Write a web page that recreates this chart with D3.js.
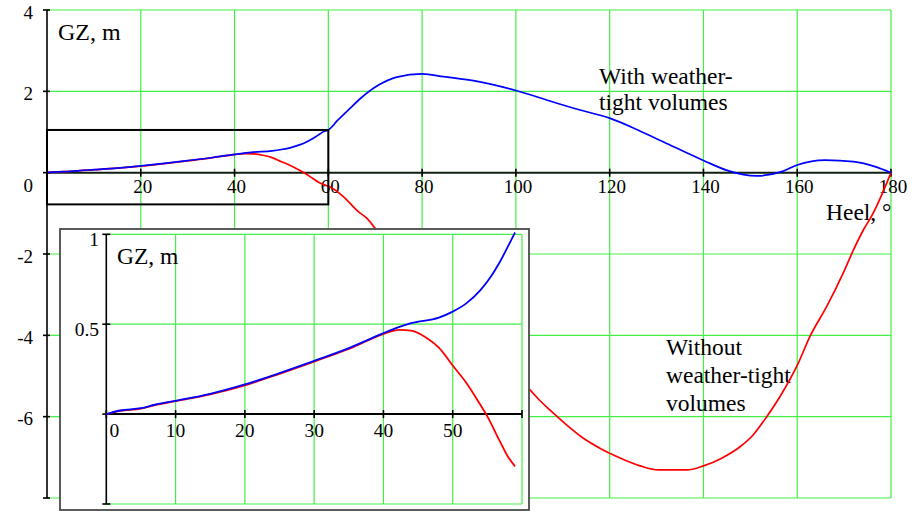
<!DOCTYPE html>
<html>
<head>
<meta charset="utf-8">
<script src="https://cdn.jsdelivr.net/npm/d3@7"></script>
<style>
  body { margin: 0; background: #fff; }
  svg { display: block; }
  text { font-family: "Liberation Serif", "Times New Roman", serif; fill: #000; }
</style>
</head>
<body>
<svg id="chart" width="914" height="512"></svg>
<script>
// GZ righting-lever curves (heel in degrees, GZ in metres)
const heelWith = [0, 2, 5, 7, 10, 15, 20, 25, 30, 35, 40, 42, 44, 48, 50, 52, 54, 55, 56.7, 58.2, 59, 60,
  62, 64.6, 66.9, 70.8, 74.6, 80, 84.6, 91.5, 100, 107.6, 113.7, 120, 126, 131.4, 140, 145.2, 151.3,
  156.7, 160, 166, 172, 176.6, 180];
const gzWith = [0, 0.02, 0.033, 0.052, 0.074, 0.113, 0.165, 0.228, 0.296, 0.367, 0.45, 0.481, 0.506, 0.537,
  0.57, 0.617, 0.69, 0.737, 0.839, 0.95, 1.01, 1.05, 1.29, 1.58, 1.83, 2.16, 2.35, 2.43, 2.36, 2.25, 2.02,
  1.75, 1.54, 1.34, 1.05, 0.76, 0.30, 0.05, -0.08, 0.025, 0.19, 0.31, 0.27, 0.15, 0];

const heelWithout = [0, 2, 5, 7, 10, 15, 20, 25, 30, 35, 40, 42.3, 44, 46.3, 48, 50, 52, 53.7, 55, 56.7, 58,
  59, 60, 63.2, 66.4, 68.2, 70, 75, 80, 85, 90, 95, 100, 103, 105, 107.3, 110.8, 114.4, 118, 121.5, 126.5,
  130.4, 136.4, 140, 143.9, 147.8, 150.6, 153.5, 156.3, 160.2, 162.7, 166.3, 169.8, 172, 174.1, 176, 178, 180];
const gzWithout = [0, 0.018, 0.03, 0.05, 0.072, 0.11, 0.16, 0.224, 0.292, 0.362, 0.445, 0.468, 0.464, 0.422,
  0.37, 0.27, 0.172, 0.07, -0.013, -0.143, -0.239, -0.291, -0.33, -0.59, -0.96, -1.12, -1.37, -2.1, -2.8,
  -3.5, -4.1, -4.6, -5.05, -5.34, -5.59, -5.84, -6.2, -6.53, -6.78, -6.98, -7.21, -7.31, -7.31, -7.21, -7.02,
  -6.74, -6.45, -6.0, -5.51, -4.69, -4.03, -3.29, -2.47, -1.9, -1.41, -1.04, -0.55, 0];

// Axis ticks and labels
const mainXTicks = [20, 40, 60, 80, 100, 120, 140, 160, 180];
const mainYTicks = [4, 2, 0, -2, -4, -6, -8];
const mainYLabels = [4, 2, 0, -2, -4, -6];
const insetXTicks = [0, 10, 20, 30, 40, 50, 60];
const insetXLabels = [0, 10, 20, 30, 40, 50];
const insetYTicks = [1, 0.5, 0, -0.5];
const insetYLabels = [1, 0.5];

// Region enlarged in the inset
const zoomHeel = [0, 60];
const zoomGZ = [-0.78, 1.05];

const GRID = "#44ee44";
const svg = d3.select("#chart");

const toPts = (hs, gs, maxH) => hs.map((h, i) => [h, gs[i]]).filter(p => p[0] <= maxH);

// ---------- main chart ----------
const x = d3.scaleLinear().domain([0, 180]).range([47, 891]);
const y = d3.scaleLinear().domain([-8, 4]).range([498, 10]);

const main = svg.append("g");

// grid
main.append("g").selectAll("line").data(mainXTicks).join("line")
  .attr("x1", d => x(d)).attr("x2", d => x(d))
  .attr("y1", y(4)).attr("y2", y(-8))
  .attr("stroke", GRID).attr("stroke-width", 1.2);
main.append("g").selectAll("line").data(mainYTicks.filter(d => d !== 0)).join("line")
  .attr("x1", x(0)).attr("x2", x(180))
  .attr("y1", d => y(d)).attr("y2", d => y(d))
  .attr("stroke", GRID).attr("stroke-width", 1.2);

// axes
main.append("line").attr("x1", x(0)).attr("x2", x(0)).attr("y1", y(4)).attr("y2", y(-8))
  .attr("stroke", "#000").attr("stroke-width", 1.6);
main.append("g").selectAll("line").data(mainYTicks).join("line")
  .attr("x1", x(0) - 4).attr("x2", x(0) + 3)
  .attr("y1", d => y(d)).attr("y2", d => y(d))
  .attr("stroke", "#000").attr("stroke-width", 1.6);
main.append("line").attr("x1", x(0)).attr("x2", x(180)).attr("y1", y(0)).attr("y2", y(0))
  .attr("stroke", "#102010").attr("stroke-width", 2);
main.append("g").selectAll("line").data(mainXTicks).join("line")
  .attr("x1", d => x(d)).attr("x2", d => x(d))
  .attr("y1", y(0) - 4).attr("y2", y(0) + 4)
  .attr("stroke", "#000").attr("stroke-width", 1.6);

// tick labels
main.append("g").selectAll("text").data(mainXTicks).join("text")
  .attr("x", d => x(d) + 2).attr("y", y(0) + 20.5)
  .attr("text-anchor", "middle").attr("font-size", 19)
  .text(d => d);
main.append("g").selectAll("text").data(mainYLabels).join("text")
  .attr("x", 33).attr("y", d => y(d) + (d === 0 ? 19 : 8.5))
  .attr("text-anchor", "end").attr("font-size", 19)
  .text(d => d);

// titles and curve notes
main.append("text").attr("x", 58).attr("y", 40).attr("font-size", 24).text("GZ, m");
main.append("text").attr("x", 826).attr("y", 220).attr("font-size", 23.5).text("Heel, °");
const noteWith = main.append("text").attr("font-size", 23.5);
noteWith.append("tspan").attr("x", 599).attr("y", 83.5).text("With weather-");
noteWith.append("tspan").attr("x", 599).attr("y", 110).text("tight volumes");
const noteWithout = main.append("text").attr("font-size", 23.5);
noteWithout.append("tspan").attr("x", 666).attr("y", 355).text("Without");
noteWithout.append("tspan").attr("x", 666).attr("y", 383).text("weather-tight");
noteWithout.append("tspan").attr("x", 666).attr("y", 411).text("volumes");

// curves
const lineMain = d3.line().x(d => x(d[0])).y(d => y(d[1])).curve(d3.curveMonotoneX);
main.append("path").attr("d", lineMain(toPts(heelWithout, gzWithout, 180)))
  .attr("fill", "none").attr("stroke", "#ff0000").attr("stroke-width", 1.7);
main.append("path").attr("d", lineMain(toPts(heelWith, gzWith, 180)))
  .attr("fill", "none").attr("stroke", "#0000ff").attr("stroke-width", 1.7);

// zoom box
main.append("rect")
  .attr("x", x(zoomHeel[0])).attr("y", y(zoomGZ[1]))
  .attr("width", x(zoomHeel[1]) - x(zoomHeel[0]))
  .attr("height", y(zoomGZ[0]) - y(zoomGZ[1]))
  .attr("fill", "none").attr("stroke", "#000").attr("stroke-width", 2);

// ---------- inset ----------
const xi = d3.scaleLinear().domain([0, 60]).range([106.3, 522]);
const yi = d3.scaleLinear().domain([-0.5, 1]).range([504, 234.3]);

const inset = svg.append("g");
inset.append("rect").attr("x", 60).attr("y", 229).attr("width", 469).attr("height", 281)
  .attr("fill", "#fff").attr("stroke", "#4a4a4a").attr("stroke-width", 1.8);

inset.append("g").selectAll("line").data(insetXTicks.filter(d => d !== 0)).join("line")
  .attr("x1", d => xi(d)).attr("x2", d => xi(d))
  .attr("y1", yi(1)).attr("y2", yi(-0.5))
  .attr("stroke", GRID).attr("stroke-width", 1.2);
inset.append("g").selectAll("line").data(insetYTicks.filter(d => d !== 0)).join("line")
  .attr("x1", xi(0)).attr("x2", xi(60))
  .attr("y1", d => yi(d)).attr("y2", d => yi(d))
  .attr("stroke", GRID).attr("stroke-width", 1.2);

inset.append("line").attr("x1", xi(0)).attr("x2", xi(0)).attr("y1", yi(1)).attr("y2", yi(-0.5))
  .attr("stroke", "#000").attr("stroke-width", 1.6);
inset.append("g").selectAll("line").data(insetYTicks).join("line")
  .attr("x1", xi(0) - 4).attr("x2", xi(0) + 4)
  .attr("y1", d => yi(d)).attr("y2", d => yi(d))
  .attr("stroke", "#000").attr("stroke-width", 1.6);
inset.append("line").attr("x1", xi(0)).attr("x2", xi(60)).attr("y1", yi(0)).attr("y2", yi(0))
  .attr("stroke", "#000").attr("stroke-width", 2);
inset.append("g").selectAll("line").data(insetXTicks).join("line")
  .attr("x1", d => xi(d)).attr("x2", d => xi(d))
  .attr("y1", yi(0) - 4).attr("y2", yi(0) + 4)
  .attr("stroke", "#000").attr("stroke-width", 1.6);

inset.append("g").selectAll("text").data(insetXLabels).join("text")
  .attr("x", d => xi(d) + (d === 0 ? 8 : 0)).attr("y", 437)
  .attr("text-anchor", "middle").attr("font-size", 19.5)
  .text(d => d);
inset.append("g").selectAll("text").data(insetYLabels).join("text")
  .attr("x", 99).attr("y", d => yi(d) + 12)
  .attr("text-anchor", "end").attr("font-size", 19.5)
  .text(d => d);
inset.append("text").attr("x", 117).attr("y", 264).attr("font-size", 23.5).text("GZ, m");

const lineInset = d3.line().x(d => xi(d[0])).y(d => yi(d[1])).curve(d3.curveMonotoneX);
inset.append("path").attr("d", lineInset(toPts(heelWithout, gzWithout, 59)))
  .attr("fill", "none").attr("stroke", "#ff0000").attr("stroke-width", 1.8);
inset.append("path").attr("d", lineInset(toPts(heelWith, gzWith, 59)))
  .attr("fill", "none").attr("stroke", "#0000ff").attr("stroke-width", 1.8);
</script>
</body>
</html>
